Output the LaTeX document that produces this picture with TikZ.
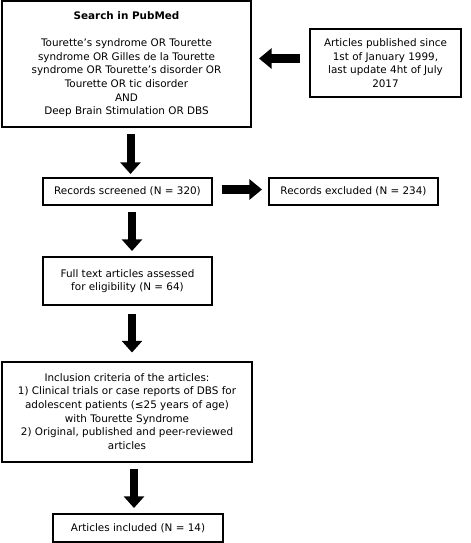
\documentclass[tikz,border=0pt]{standalone}
\usepackage{fontspec}
\setmainfont{DejaVu Sans}
\usetikzlibrary{arrows.meta}
\begin{document}
\begin{tikzpicture}[x=0.75pt,y=-0.75pt,
  box/.style={draw=black, line width=1.5pt, rectangle, inner sep=0pt, align=center,
    font=\fontsize{7.8pt}{10.2pt}\selectfont},
  downarrow/.style={line width=6pt, -{Triangle[width=15pt,length=8.75pt]}},
  siderrow/.style={line width=6.75pt, -{Triangle[width=15pt,length=9.5pt]}}]
\useasboundingbox (0,0) rectangle (471,543);
\fill[white] (0,0) rectangle (471,543);

\node[box, minimum width=186.75pt, minimum height=94.5pt] (search) at (126.5,64)
  {\textbf{Search in PubMed}\\[10.6pt]
   Tourette’s syndrome OR Tourette\\
   syndrome OR Gilles de la Tourette\\
   syndrome OR Tourette’s disorder OR\\
   Tourette OR tic disorder\\
   AND\\
   Deep Brain Stimulation OR DBS};

\node[box, minimum width=113.25pt, minimum height=51pt] (since) at (385.5,63)
  {Articles published since\\
   1st of January 1999,\\
   last update 4ht of July\\
   2017};

\node[box, minimum width=126.75pt, minimum height=20.25pt] (screened) at (127.5,191.5)
  {Records screened (N = 320)};

\node[box, minimum width=126.75pt, minimum height=20.25pt] (excluded) at (353.5,191.5)
  {Records excluded (N = 234)};

\node[box, minimum width=126.75pt, minimum height=36pt] (full) at (127.5,281)
  {Full text articles assessed\\
   for eligibility (N = 64)};

\node[box, minimum width=187.5pt, minimum height=75pt] (incl) at (127,411.5)
  {Inclusion criteria of the articles:\\
   1) Clinical trials or case reports of DBS for\\
   adolescent patients (≤25 years of age)\\
   with Tourette Syndrome\\
   2) Original, published and peer-reviewed\\
   articles};

\node[box, minimum width=127.5pt, minimum height=21pt] (included) at (138,528)
  {Articles included (N = 14)};

\coordinate (ly) at (0,58.5);
\coordinate (ry) at (0,189.5);
\coordinate (x1) at (130.5,0);
\coordinate (x2) at (132,0);
\coordinate (x3) at (132,0);
\coordinate (x4) at (134,0);

\draw[siderrow, shorten <=6.75pt, shorten >=5.25pt] (since.west |- ly) -- (search.east |- ly);
\draw[siderrow, shorten <=6.75pt, shorten >=4.5pt] (screened.east |- ry) -- (excluded.west |- ry);
\draw[downarrow, shorten <=4.5pt, shorten >=2.25pt] (search.south -| x1) -- (screened.north -| x1);
\draw[downarrow, shorten <=4.5pt, shorten >=3.75pt] (screened.south -| x2) -- (full.north -| x2);
\draw[downarrow, shorten <=6pt, shorten >=6pt] (full.south -| x3) -- (incl.north -| x3);
\draw[downarrow, shorten <=4.5pt, shorten >=3.75pt] (incl.south -| x4) -- (included.north -| x4);
\end{tikzpicture}
\end{document}
